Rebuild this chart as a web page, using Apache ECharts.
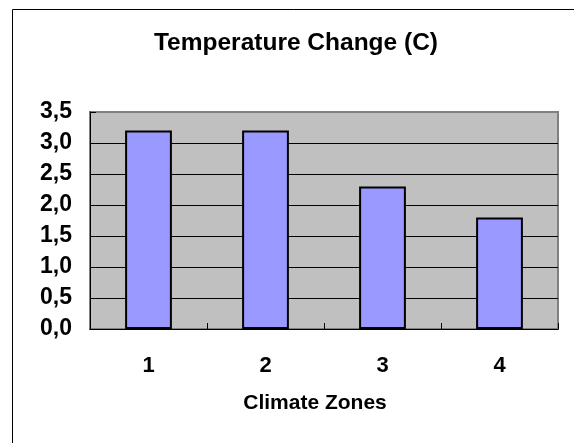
<!DOCTYPE html>
<html>
<head>
<meta charset="utf-8">
<title>Temperature Change (C)</title>
<script src="https://cdn.jsdelivr.net/npm/echarts@6/dist/echarts.min.js"></script>
<style>
  html, body { margin: 0; padding: 0; background: #ffffff; }
  #chart { width: 574px; height: 443px; }
</style>
</head>
<body>
<div id="chart"></div>
<script>
// Climate zones and the temperature change for each
const zones = ['1', '2', '3', '4'];
const tempChange = [3.2, 3.2, 2.3, 1.8];
// Value-axis tick labels (decimal comma), from 0 to 3.5 in steps of 0.5
const yTickLabels = ['0,0', '0,5', '1,0', '1,5', '2,0', '2,5', '3,0', '3,5'];

const FONT = '"Liberation Sans", Arial, Helvetica, sans-serif';

const chart = echarts.init(document.getElementById('chart'));

chart.setOption({
  backgroundColor: '#ffffff',
  animation: false,
  title: {
    text: 'Temperature Change (C)',
    left: 291,
    top: 26,
    textAlign: 'center',
    textStyle: { fontFamily: FONT, fontWeight: 'bold', fontSize: 24.5, color: '#000' }
  },
  graphic: [{
    type: 'rect',
    silent: true,
    shape: { x: 12.5, y: 9.5, width: 700, height: 700 },
    style: { fill: 'none', stroke: '#000', lineWidth: 1 },
    z: 100
  }],
  grid: {
    left: 90,
    right: 16,
    top: 112,
    bottom: 114,
    show: true,
    backgroundColor: '#C0C0C0',
    borderColor: '#808080',
    borderWidth: 2
  },
  xAxis: {
    type: 'category',
    data: zones,
    name: 'Climate Zones',
    nameLocation: 'middle',
    nameGap: 64,
    nameTextStyle: {
      fontFamily: FONT, fontWeight: 'bold', fontSize: 21, color: '#000',
      padding: [0, 18, 0, 0]
    },
    axisLine: { lineStyle: { color: '#000', width: 1 } },
    axisTick: { show: true, inside: true, length: 6, alignWithLabel: false, lineStyle: { color: '#000' } },
    axisLabel: { margin: 26, fontFamily: FONT, fontWeight: 'bold', fontSize: 22, color: '#000' },
    splitLine: { show: false }
  },
  yAxis: {
    type: 'value',
    min: 0,
    max: 3.5,
    interval: 0.5,
    axisLine: { show: true, lineStyle: { color: '#000', width: 1 } },
    axisTick: { show: true, inside: true, length: 6, lineStyle: { color: '#000' } },
    axisLabel: {
      margin: 18, fontFamily: FONT, fontWeight: 'bold', fontSize: 23, color: '#000',
      formatter: (v, i) => yTickLabels[i]
    },
    splitLine: { show: true, showMinLine: false, showMaxLine: false, lineStyle: { color: '#000', width: 1 } }
  },
  series: [{
    type: 'bar',
    data: tempChange,
    barCategoryGap: '60%',
    itemStyle: { color: '#9999FF', borderColor: '#000', borderWidth: 2 }
  }]
});
</script>
</body>
</html>
